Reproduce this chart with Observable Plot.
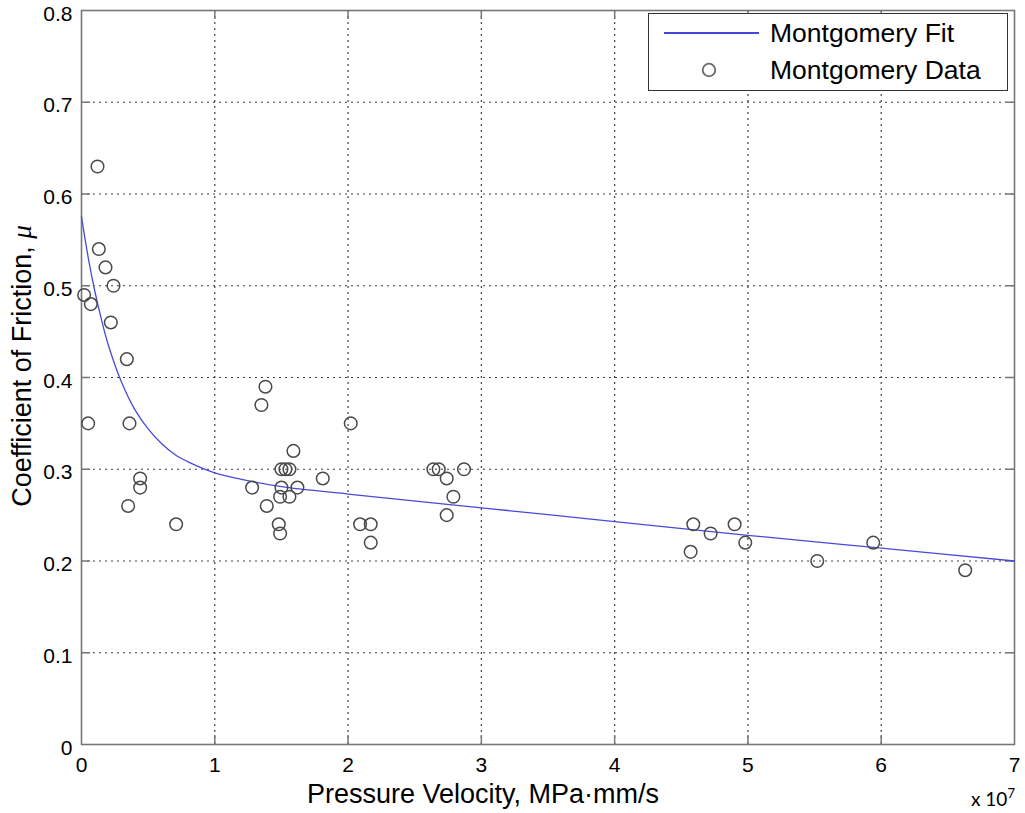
<!DOCTYPE html>
<html>
<head>
<meta charset="utf-8">
<script src="https://cdn.jsdelivr.net/npm/d3@7"></script>
<script src="https://cdn.jsdelivr.net/npm/@observablehq/plot@0.6"></script>
<style>
  html, body { margin: 0; padding: 0; background: #fff; }
  #wrap { position: relative; width: 1025px; height: 813px; font-family: "Liberation Sans", Arial, sans-serif; }
  #ylab { position: absolute; left: 22px; top: 366px; transform: translate(-50%, -50%) rotate(-90deg); font-size: 27px; white-space: nowrap; color: #000; }
  #ylab i { font-family: "Liberation Serif", "DejaVu Serif", serif; }
  #mult { position: absolute; left: 971px; top: 786px; font-family: Lato, "Open Sans", sans-serif; font-size: 19px; color: #000; white-space: nowrap; }
  #mult sup { font-size: 13px; position: relative; top: -1px; }
  #legend { position: absolute; left: 648px; top: 13px; width: 360px; height: 78px; border: 1.5px solid #333; background: #fff; box-sizing: border-box; }
  #legend svg { position: absolute; left: 0; top: 0; }
  .lt { position: absolute; left: 121px; font-size: 26.5px; color: #000; white-space: nowrap; }
</style>
</head>
<body>
<div id="wrap"></div>
<script>
// Pressure velocity in units of 10^7 MPa·mm/s, coefficient of friction
const dataPV = [0.12, 0.13, 0.18, 0.24, 0.02, 0.07, 0.22, 0.34, 0.05, 0.36, 0.44, 0.44, 0.35, 0.71,
  1.28, 1.38, 1.35, 2.02, 1.59, 1.50, 1.53, 1.56, 1.81, 1.50, 1.62, 1.49, 1.56, 1.39, 1.48, 1.49,
  2.09, 2.17, 2.17, 2.64, 2.68, 2.87, 2.74, 2.79, 2.74,
  4.59, 4.57, 4.72, 4.90, 4.98, 5.52, 5.94, 6.63];
const dataMu = [0.63, 0.54, 0.52, 0.50, 0.49, 0.48, 0.46, 0.42, 0.35, 0.35, 0.29, 0.28, 0.26, 0.24,
  0.28, 0.39, 0.37, 0.35, 0.32, 0.30, 0.30, 0.30, 0.29, 0.28, 0.28, 0.27, 0.27, 0.26, 0.24, 0.23,
  0.24, 0.24, 0.22, 0.30, 0.30, 0.30, 0.29, 0.27, 0.25,
  0.24, 0.21, 0.23, 0.24, 0.22, 0.20, 0.22, 0.19];
// Fit curve
const fitPV = [0, 0.05, 0.1, 0.15, 0.2, 0.3, 0.4, 0.5, 0.6, 0.7, 0.8, 1.0, 1.2, 1.5, 2, 3, 4, 5, 6, 7];
const fitMu = [0.575, 0.531, 0.494, 0.463, 0.436, 0.395, 0.365, 0.344, 0.328, 0.316, 0.308, 0.296, 0.289, 0.281, 0.273, 0.258, 0.243, 0.228, 0.214, 0.200];
const xTicks = [0, 1, 2, 3, 4, 5, 6, 7];
const yTicks = [0, 0.1, 0.2, 0.3, 0.4, 0.5, 0.6, 0.7, 0.8];
const xInner = [1, 2, 3, 4, 5, 6];
const yInner = [0.1, 0.2, 0.3, 0.4, 0.5, 0.6, 0.7];

const points = dataPV.map((x, i) => ({x, y: dataMu[i]}));
const fit = fitPV.map((x, i) => ({x, y: fitMu[i]}));

const gridStyle = {stroke: "#000", strokeOpacity: 0.75, strokeWidth: 1.2, strokeDasharray: "2,4"};
const tickStyle = {stroke: "#777", strokeWidth: 1.5};

const chart = Plot.plot({
  width: 1025,
  height: 813,
  marginLeft: 81,
  marginRight: 11,
  marginTop: 10,
  marginBottom: 69,
  style: {fontFamily: "'Liberation Sans', Arial, sans-serif", color: "#000", background: "transparent"},
  x: {domain: [0, 7], label: null},
  y: {domain: [0, 0.8], label: null},
  marks: [
    Plot.gridX(xInner, gridStyle),
    Plot.gridY(yInner, gridStyle),
    Plot.ruleX(xInner, {x: d => d, insetTop: 725, ...tickStyle}),
    Plot.ruleX(xInner, {x: d => d, insetBottom: 725, ...tickStyle}),
    Plot.ruleY(yInner, {y: d => d, insetRight: 924, ...tickStyle}),
    Plot.ruleY(yInner, {y: d => d, insetLeft: 924, ...tickStyle}),
    Plot.frame({stroke: "#777", strokeWidth: 1.6}),
    Plot.axisX({ticks: xTicks, tickSize: 0, tickPadding: 13, fontSize: 21, label: null, tickFormat: d => String(d)}),
    Plot.axisY({ticks: yTicks, tickSize: 0, tickPadding: 9, dy: 3.5, fontSize: 21, label: null, tickFormat: d => String(d)}),
    Plot.line(fit, {x: "x", y: "y", stroke: "#4a4ad8", strokeWidth: 1.3, curve: "catmull-rom"}),
    Plot.dot(points, {x: "x", y: "y", r: 6.3, stroke: "#4a4a4a", strokeWidth: 1.5, fill: "none"}),
    Plot.text(["Pressure Velocity, MPa·mm/s"], {frameAnchor: "bottom", dx: -65, dy: 58, fontSize: 27, fill: "#000"})
  ]
});

const wrap = document.getElementById("wrap");
wrap.appendChild(chart);

const ylab = document.createElement("div");
ylab.id = "ylab";
ylab.innerHTML = "Coefficient of Friction, <i>μ</i>";
wrap.appendChild(ylab);

const mult = document.createElement("div");
mult.id = "mult";
mult.innerHTML = "x 10<sup>7</sup>";
wrap.appendChild(mult);

const legend = document.createElement("div");
legend.id = "legend";
legend.innerHTML = `
  <svg width="360" height="78">
    <line x1="15" x2="110" y1="19" y2="19" stroke="#4646d6" stroke-width="2"/>
    <circle cx="60" cy="56" r="6.3" fill="none" stroke="#6a6a6a" stroke-width="1.8"/>
  </svg>
  <div class="lt" style="top:4px">Montgomery Fit</div>
  <div class="lt" style="top:41px">Montgomery Data</div>`;
wrap.appendChild(legend);
</script>
</body>
</html>
